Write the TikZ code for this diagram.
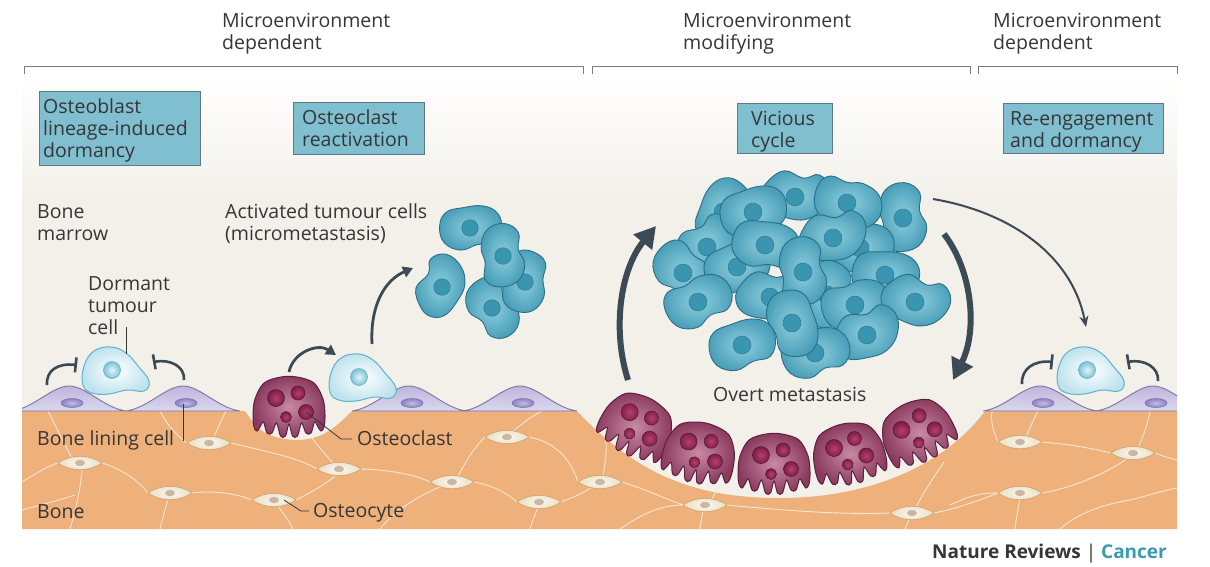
\documentclass[tikz,border=0pt]{standalone}
\usepackage{fontspec}
\setmainfont{Open Sans}
\usetikzlibrary{arrows.meta}
\definecolor{cream}{HTML}{F3F0EA}
\definecolor{bone}{HTML}{EFB17B}
\definecolor{boxfill}{HTML}{7FBFD0}
\definecolor{boxline}{HTML}{5E7A86}
\definecolor{txt}{HTML}{363636}
\definecolor{arrowc}{HTML}{3B4A55}
\definecolor{tcin}{HTML}{8FCFDE}
\definecolor{tcout}{HTML}{4A9FB9}
\definecolor{tcline}{HTML}{2C6E84}
\definecolor{tcnucc}{HTML}{3A95B0}
\definecolor{pcin}{HTML}{FFFFFF}
\definecolor{pcout}{HTML}{BFE3EE}
\definecolor{pcline}{HTML}{5DB3CA}
\definecolor{ocin}{HTML}{C98AA3}
\definecolor{ocout}{HTML}{8B3A5E}
\definecolor{ocline}{HTML}{5A2040}
\definecolor{ocnin}{HTML}{B5406F}
\definecolor{ocnout}{HTML}{7E1C45}
\definecolor{lctop}{HTML}{BEB5DC}
\definecolor{lcbot}{HTML}{DCD7EE}
\definecolor{lcline}{HTML}{7C74A2}
\definecolor{lcnuc}{HTML}{8C80C4}
\definecolor{oyline}{HTML}{D6A676}
\definecolor{oyin}{HTML}{FBF8EF}
\definecolor{oyout}{HTML}{E8DFC4}
\definecolor{netc}{HTML}{FBE6D2}
\definecolor{bracketc}{HTML}{7A7A7A}
\definecolor{tealc}{HTML}{3A9BB2}
\newcommand\mylines[1]{\begin{tabular}[t]{@{}l@{}}#1\end{tabular}}
\tikzset{
  lbl/.style={font=\fontsize{19.5}{22}\selectfont, text=txt, inner sep=0pt, anchor=base west},
  bluebox/.style={draw=boxline, fill=boxfill, line width=0.9pt, inner sep=0pt, anchor=north west},
  bracket/.style={draw=bracketc, line width=0.9pt},
  leader/.style={draw=txt, line width=0.8pt},
  net/.style={draw=netc, line width=0.9pt},
  tcbody/.style={draw=tcline, line width=0.9pt, inner color=tcin, outer color=tcout},
  tcnuc/.style={draw=tcline!70!tcnucc, line width=0.5pt, fill=tcnucc},
  pcbody/.style={draw=pcline, line width=1pt, inner color=pcin, outer color=pcout},
  pcnuc/.style={draw=pcline, line width=0.6pt, inner color=pcin!60!pcout, outer color=pcline!80!white},
  ocbody/.style={draw=ocline, line width=1pt, inner color=ocin, outer color=ocout},
  ocnuc/.style={draw=ocline!80!black, line width=0.5pt, inner color=ocnin, outer color=ocnout},
  lcbody/.style={draw=lcline, line width=0.9pt, top color=lctop, bottom color=lcbot},
  lcnucs/.style={draw=lcline, line width=0.5pt, inner color=lcnuc!50!white, outer color=lcnuc},
  oybody/.style={draw=oyline, line width=0.8pt, inner color=oyin, outer color=oyout},
  bigarrow/.style={draw=arrowc, line width=6pt, -{Triangle[length=21pt,width=23pt]}},
  smallarrow/.style={draw=arrowc, line width=2.8pt, -{Triangle[length=10pt,width=11pt]}},
  thinarrow/.style={draw=arrowc, line width=2pt, -{Stealth[length=11pt,width=9pt]}},
  inhib/.style={draw=arrowc, line width=2.6pt, -{Bar[width=15pt,line width=2.6pt]}},
  pics/tcA/.style={code={
    \path[tcbody] plot[smooth cycle,tension=0.7] coordinates {(-33,-2) (-26,-17) (-8,-22) (14,-24) (30,-16) (34,0) (26,16) (8,18) (-10,24) (-28,16)};
    \path[tcnuc] (0,0) circle (9);}},
  pics/tcB/.style={code={
    \path[tcbody] plot[smooth cycle,tension=0.7] coordinates {(-30,-10) (-15,-24) (5,-20) (20,-26) (33,-14) (30,6) (15,20) (-5,22) (-25,18) (-34,5)};
    \path[tcnuc] (0,0) circle (9);}},
  pics/tcC/.style={code={
    \path[tcbody] plot[smooth cycle,tension=0.7] coordinates {(-34,0) (-28,-15) (-10,-18) (5,-25) (25,-22) (35,-5) (28,12) (10,15) (-5,25) (-25,20)};
    \path[tcnuc] (0,0) circle (9);}},
  pics/pcell/.style={code={
    \path[pcbody] plot[smooth cycle,tension=0.7] coordinates {(-32,15) (-31,-4) (-21,-19) (-4,-23) (11,-17) (23,-4) (34,11) (29,21) (12,20) (-6,24) (-23,23)};
    \path[pcnuc] (-3,0) circle (8.5);}},
  pics/oclast/.style={code={
    \path[ocbody] plot[smooth cycle, tension=0.55] coordinates {(-36,6) (-34,-10) (-25,-26) (-8,-32) (8,-32) (25,-26) (34,-10) (36,6) (35,18) (32,22) (28.5,17) (25.5,13) (22,24) (17,24) (12.5,14) (8.5,27) (3.5,27) (0,15) (-3.5,27) (-8.5,27) (-12.5,14) (-17,24) (-22,24) (-25.5,13) (-28.5,17) (-32,22) (-35,18)};
    \path[ocnuc] (-13,-11) circle (8.5);
    \path[ocnuc] (9,-16) circle (7);
    \path[ocnuc] (-3,8) circle (5.5);
    \path[ocnuc] (17,3) circle (7.5);}},
  pics/lining/.style={code={
    \path[lcbody] (0,0) .. controls (22,-3) and (40,-25) .. (57,-25) .. controls (74,-25) and (92,-3) .. (114,0) -- cycle;
    \path[lcnucs] (60,-8) ellipse [x radius=11, y radius=4.5];}},
  pics/ocyte/.style={code={
    \path[oybody] (-22,0) .. controls (-9,-9) and (9,-9) .. (22,0) .. controls (9,9) and (-9,9) .. (-22,0) -- cycle;
    \fill[oyline!60!gray!70!white] (0,0) ellipse [x radius=5, y radius=3.2];}}
}
\begin{document}
\begin{tikzpicture}[x=1pt,y=-1pt]
\useasboundingbox (0,0) rectangle (1210,566);
\fill[white] (0,0) rectangle (1210,566);

% brackets
\draw[bracket] (24,74) -- (24,66) -- (583,66) -- (583,74);
\draw[bracket] (592,74) -- (592,66) -- (970,66) -- (970,74);
\draw[bracket] (978,74) -- (978,66) -- (1177,66) -- (1177,74);

\node[lbl] (h1) at (222,27) {\mylines{Microenvironment\\dependent}};
\node[lbl] (h2) at (683,27) {\mylines{Microenvironment\\modifying}};
\node[lbl] (h3) at (993,27) {\mylines{Microenvironment\\dependent}};

\begin{scope}
\clip (22,75) rectangle (1177,529);
\shade[top color=white, bottom color=cream] (22,75) rectangle (1177,200);
\fill[cream] (22,199.5) rectangle (1177,529);

% bone
\fill[bone] (22,411) -- (245,411) .. controls (256,427) and (262,438) .. (296,440) .. controls (322,440) and (335,428) .. (352,411) -- (577,411) .. controls (640,478) and (700,498) .. (780,498) .. controls (870,498) and (945,465) .. (985,411) -- (1177,411) -- (1177,529) -- (22,529) -- cycle;

% canalicular network
\draw[net] (22,482) .. controls (35,474) and (48,466) .. (58,463);
\draw[net] (102,463) .. controls (120,468) and (138,480) .. (148,493);
\draw[net] (72,458) .. controls (62,440) and (55,425) .. (48,411);
\draw[net] (82,469) .. controls (80,495) and (74,515) .. (70,529);
\draw[net] (187,443) .. controls (172,432) and (165,420) .. (160,411);
\draw[net] (231,443) .. controls (260,450) and (300,458) .. (317,469);
\draw[net] (214,437) .. controls (218,428) and (222,418) .. (226,411);
\draw[net] (192,493) .. controls (215,490) and (238,494) .. (252,500);
\draw[net] (168,499) .. controls (165,510) and (162,520) .. (160,529);
\draw[net] (296,500) .. controls (312,492) and (326,484) .. (336,475);
\draw[net] (278,506) .. controls (284,515) and (290,522) .. (293,529);
\draw[net] (361,469) .. controls (395,470) and (418,476) .. (430,482);
\draw[net] (333,463) .. controls (326,455) and (318,446) .. (312,438);
\draw[net] (474,482) .. controls (495,486) and (508,494) .. (517,502);
\draw[net] (458,476) .. controls (468,458) and (476,445) .. (485,437);
\draw[net] (512,432) .. controls (520,425) and (532,416) .. (542,411);
\draw[net] (529,437) .. controls (555,442) and (570,458) .. (578,482);
\draw[net] (561,502) .. controls (572,498) and (585,492) .. (592,487);
\draw[net] (538,507) .. controls (535,515) and (532,522) .. (530,529);
\draw[net] (622,482) .. controls (648,490) and (668,500) .. (683,505);
\draw[net] (603,476) .. controls (605,465) and (607,450) .. (606,440);
\draw[net] (727,505) .. controls (780,510) and (840,515) .. (890,513);
\draw[net] (712,499) .. controls (714,495) and (716,492) .. (716,490);
\draw[net] (703,511) .. controls (702,518) and (700,524) .. (700,529);
\draw[net] (934,513) .. controls (960,508) and (985,498) .. (998,493);
\draw[net] (916,507) .. controls (925,490) and (935,475) .. (944,462);
\draw[net] (910,518) .. controls (908,522) and (906,526) .. (905,529);
\draw[net] (998,442) .. controls (994,432) and (990,422) .. (992,411);
\draw[net] (1026,437) .. controls (1030,428) and (1034,418) .. (1038,411);
\draw[net] (1042,442) .. controls (1078,445) and (1098,450) .. (1111,453);
\draw[net] (1138,448) .. controls (1144,435) and (1148,422) .. (1150,411);
\draw[net] (1155,453) .. controls (1162,456) and (1170,458) .. (1177,460);
\draw[net] (1128,458) .. controls (1100,478) and (1062,490) .. (1042,493);
\draw[net] (1020,498) .. controls (1018,510) and (1016,520) .. (1015,529);
\draw[net] (998,493) .. controls (980,492) and (965,498) .. (950,505);
\draw[net] (1060,529) .. controls (1075,515) and (1100,505) .. (1130,500);
\draw[net] (1130,500) .. controls (1150,495) and (1165,490) .. (1177,488);
\draw[net] (22,510) .. controls (40,505) and (60,500) .. (75,495);
\draw[net] (380,529) .. controls (395,510) and (420,495) .. (440,487);
\draw[net] (620,529) .. controls (640,515) and (660,505) .. (683,505);

% osteocytes
\pic at (80,463) {ocyte};
\pic at (209,443) {ocyte};
\pic at (170,493) {ocyte};
\pic at (274,500) {ocyte};
\pic at (339,469) {ocyte};
\pic at (452,482) {ocyte};
\pic at (507,437) {ocyte};
\pic at (539,502) {ocyte};
\pic at (600,482) {ocyte};
\pic at (705,505) {ocyte};
\pic at (912,513) {ocyte};
\pic at (1020,442) {ocyte};
\pic at (1133,453) {ocyte};
\pic at (1020,493) {ocyte};

% bone lining cells
\pic at (12,411) {lining};
\pic at (126,411) {lining};
\pic at (352,411) {lining};
\pic at (463,411) {lining};
\pic at (983,411) {lining};
\pic at (1096,411) {lining};

% osteoclasts
\pic at (289,409) {oclast};
\pic[rotate=-28] at (636,428) {oclast};
\pic[rotate=-12] at (699,455) {oclast};
\pic at (774,466) {oclast};
\pic[rotate=12] at (849,456) {oclast};
\pic[rotate=26] at (918,434) {oclast};

% pale tumour cells
\pic at (115,370) {pcell};
\pic at (362,377) {pcell};
\pic at (1090,370) {pcell};

% micrometastasis
\pic[scale=0.92] at (470,228) {tcA};
\pic[scale=0.92,rotate=60] at (442,287) {tcB};
\pic[scale=0.92,rotate=-70] at (492,308) {tcC};
\pic[scale=0.92,rotate=75] at (525,282) {tcA};
\pic[scale=0.92,rotate=80] at (503,256) {tcC};

% vicious cycle cluster
\pic[rotate=60] at (723,212) {tcA};
\pic[rotate=-10] at (795,197) {tcB};
\pic[rotate=80] at (903,218) {tcC};
\pic at (860,248) {tcA};
\pic[rotate=30] at (707,247) {tcB};
\pic[rotate=10] at (753,212) {tcA};
\pic[rotate=-30] at (847,203) {tcC};
\pic[rotate=-60] at (683,273) {tcC};
\pic[rotate=15] at (737,267) {tcA};
\pic[rotate=5] at (833,238) {tcB};
\pic[rotate=-10] at (885,275) {tcA};
\pic[rotate=10] at (698,302) {tcC};
\pic[rotate=-5] at (770,297) {tcB};
\pic[rotate=70] at (827,295) {tcA};
\pic at (855,305) {tcC};
\pic[rotate=-20] at (915,302) {tcB};
\pic[rotate=-15] at (765,245) {tcA};
\pic[rotate=80] at (803,272) {tcC};
\pic[rotate=10] at (742,345) {tcA};
\pic[rotate=15] at (867,335) {tcB};
\pic at (815,353) {tcC};
\pic[rotate=-80] at (792,323) {tcA};
\end{scope}

% boxes
\node[bluebox, minimum width=161pt, minimum height=74pt] (box1) at (39,91) {};
\node[bluebox, minimum width=131pt, minimum height=52pt] (box2) at (293,102) {};
\node[bluebox, minimum width=95pt, minimum height=50pt] (box3) at (737,103) {};
\node[bluebox, minimum width=160pt, minimum height=50pt] (box4) at (1003,103) {};
\node[lbl] (t1) at (43,113) {\mylines{Osteoblast\\lineage-induced\\dormancy}};
\node[lbl] (t2) at (302,124) {\mylines{Osteoclast\\reactivation}};
\node[lbl] (t3) at (751,125) {\mylines{Vicious\\cycle}};
\node[lbl] (t4) at (1010,125) {\mylines{Re-engagement\\and dormancy}};

% labels
\node[lbl] (marrow) at (37,218) {\mylines{Bone\\marrow}};
\node[lbl] (activated) at (225,218) {\mylines{Activated tumour cells\\(micrometastasis)}};
\node[lbl] (dormant) at (88,290) {\mylines{Dormant\\tumour\\cell}};
\node[lbl] (lining) at (37,445) {Bone lining cell};
\node[lbl] (oclab) at (357,445) {Osteoclast};
\node[lbl] (bonelab) at (37,518) {Bone};
\node[lbl] (oylab) at (313,517) {Osteocyte};
\node[lbl] (overt) at (713,401) {Overt metastasis};
\node[anchor=base west, inner sep=0pt, font=\bfseries\fontsize{19}{22}\selectfont, text=txt] (credit) at (932,558) {Nature Reviews {\mdseries|} \textcolor{tealc}{Cancer}};

% leader lines
\coordinate (cellA) at (126,327);
\coordinate (cellB) at (126,354);
\draw[leader] (cellA) -- (cellB);
\coordinate (linA) at (183,404);
\coordinate (linB) at (183,441);
\draw[leader] (linA) -- (linB);
\coordinate (ocA) at (306,412);
\coordinate (ocB) at (341,439);
\coordinate (ocC) at (352,439);
\draw[leader] (ocA) -- (ocB) -- (ocC);
\coordinate (oyA) at (284,500);
\coordinate (oyB) at (301,511);
\coordinate (oyC) at (309,511);
\draw[leader] (oyA) -- (oyB) -- (oyC);

% inhibition arcs
\coordinate (i1a) at (47,385);
\coordinate (i1b) at (77,365);
\draw[inhib] (i1a) .. controls (46,370) and (58,363) .. (i1b);
\coordinate (i2a) at (184,380);
\coordinate (i2b) at (153,362);
\draw[inhib] (i2a) .. controls (185,366) and (170,359) .. (i2b);
\coordinate (i3a) at (1022,384);
\coordinate (i3b) at (1053,362);
\draw[inhib] (i3a) .. controls (1021,369) and (1034,360) .. (i3b);
\coordinate (i4a) at (1158,381);
\coordinate (i4b) at (1127,362);
\draw[inhib] (i4a) .. controls (1159,367) and (1144,359) .. (i4b);

% arrows
\coordinate (ra) at (289,372);
\coordinate (rb) at (336,355);
\draw[smallarrow] (ra) .. controls (293,352) and (318,343) .. (rb);
\coordinate (ma) at (372,344);
\coordinate (mb) at (413,268);
\draw[smallarrow] (ma) .. controls (370,305) and (385,280) .. (mb);
\coordinate (va) at (628,380);
\coordinate (vb) at (656,226);
\draw[bigarrow] (va) .. controls (612,330) and (620,270) .. (vb);
\coordinate (vc) at (944,234);
\coordinate (vd) at (953,380);
\draw[bigarrow] (vc) .. controls (972,270) and (978,330) .. (vd);
\coordinate (da) at (933,199);
\coordinate (db) at (1086,327);
\draw[thinarrow] (da) .. controls (1010,212) and (1072,255) .. (db);
\end{tikzpicture}
\end{document}
